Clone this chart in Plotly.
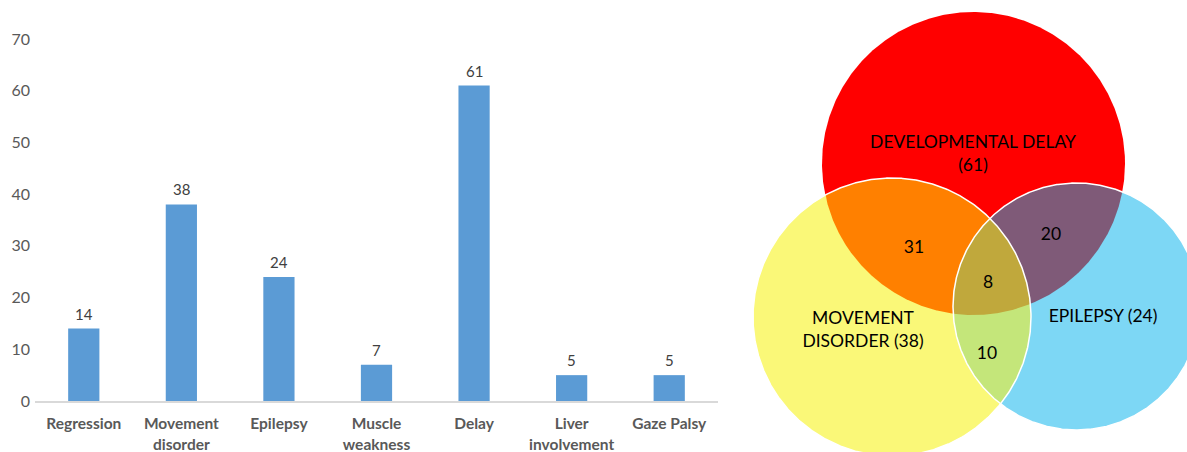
import numpy as np
import plotly.graph_objects as go

# ---------------- data ----------------
categories = ["Regression", "Movement<br>disorder", "Epilepsy", "Muscle<br>weakness",
              "Delay", "Liver<br>involvement", "Gaze Palsy"]
counts = [14, 38, 24, 7, 61, 5, 5]
y_ticks = [0, 10, 20, 30, 40, 50, 60, 70]

venn_sets = ["DEVELOPMENTAL DELAY", "MOVEMENT<br>DISORDER", "EPILEPSY"]
venn_set_sizes = [61, 38, 24]
venn_delay_movement = 31
venn_delay_epilepsy = 20
venn_movement_epilepsy = 10
venn_all_three = 8

# ---------------- geometry / style ----------------
W, H = 1187, 452
BAR_COLOR = "#5B9BD5"
# circles in pixel coordinates (cx, cy, r)
C_RED = (973.5, 163.5, 151.5)
C_YEL = (892.0, 317.0, 139.0)
C_BLU = (1076.5, 306.5, 123.5)
circles = [C_RED, C_YEL, C_BLU]


def circle_pts(c, n=720):
    t = np.linspace(0, 2 * np.pi, n)
    return c[0] + c[2] * np.cos(t), c[1] + c[2] * np.sin(t)


def inside(x, y, c, tol=1e-6):
    return (x - c[0]) ** 2 + (y - c[1]) ** 2 <= c[2] ** 2 * (1 + tol) + 1e-6


def intersection_poly(cs, n=2000):
    xs, ys = [], []
    for c in cs:
        x, y = circle_pts(c, n)
        m = np.ones_like(x, dtype=bool)
        for o in cs:
            if o is not c:
                m &= inside(x, y, o)
        xs.append(x[m]); ys.append(y[m])
    x = np.concatenate(xs); y = np.concatenate(ys)
    cx, cy = x.mean(), y.mean()
    order = np.argsort(np.arctan2(y - cy, x - cx))
    x = x[order]; y = y[order]
    return np.append(x, x[0]), np.append(y, y[0])


fig = go.Figure()

# ---------------- bar chart ----------------
fig.add_trace(go.Bar(
    x=categories, y=counts, marker=dict(color=BAR_COLOR, line=dict(width=0)),
    xaxis="x", yaxis="y", showlegend=False, hoverinfo="x+y",
))
for cat, v in zip(categories, counts):
    fig.add_annotation(x=cat, y=v, xref="x", yref="y", text=str(v), showarrow=False,
                       yanchor="bottom", yshift=4,
                       font=dict(family="Lato", size=15, color="#404040"))

# ---------------- venn diagram ----------------
def add_fill(x, y, color):
    fig.add_trace(go.Scatter(x=x, y=y, mode="lines", fill="toself", fillcolor=color,
                             line=dict(width=0, color=color), xaxis="x2", yaxis="y2",
                             showlegend=False, hoverinfo="skip"))


for c, col in zip(circles, ["#FF0000", "#FAF878", "#7DD7F5"]):
    x, y = circle_pts(c)
    add_fill(x, y, col)

x, y = intersection_poly([C_RED, C_YEL]); add_fill(x, y, "#FF8000")
x, y = intersection_poly([C_RED, C_BLU]); add_fill(x, y, "#7F5A78")
x, y = intersection_poly([C_YEL, C_BLU]); add_fill(x, y, "#C4E67A")
x, y = intersection_poly([C_RED, C_YEL, C_BLU]); add_fill(x, y, "#C0A83C")

for c in [C_YEL, C_BLU]:
    x, y = circle_pts(c)
    fig.add_trace(go.Scatter(x=x, y=y, mode="lines", line=dict(width=1.5, color="white"),
                             xaxis="x2", yaxis="y2", showlegend=False, hoverinfo="skip"))

venn_text = [
    f"{venn_sets[0]}<br>({venn_set_sizes[0]})",
    f"{venn_sets[1]} ({venn_set_sizes[1]})",
    f"{venn_sets[2]} ({venn_set_sizes[2]})",
    str(venn_delay_movement), str(venn_delay_epilepsy),
    str(venn_all_three), str(venn_movement_epilepsy),
]
venn_tx = [973, 863, 1103, 914, 1051, 988, 987]
venn_ty = [155, 331, 318, 249, 236, 284, 355]
fig.add_trace(go.Scatter(
    x=venn_tx, y=venn_ty, mode="text", text=venn_text,
    textfont=dict(family="Lato", size=17.5, color="black"),
    xaxis="x2", yaxis="y2", showlegend=False, hoverinfo="skip",
))

fig.update_layout(
    width=W, height=H,
    margin=dict(l=0, r=0, t=0, b=0, autoexpand=False),
    paper_bgcolor="white", plot_bgcolor="rgba(0,0,0,0)",
    bargap=0.68,
    xaxis=dict(domain=[35 / W, 718 / W], anchor="y", showline=True, linecolor="#D9D9D9",
               linewidth=1.5, showgrid=False, zeroline=False, ticks="", automargin=False,
               ticklabelstandoff=8,
               tickfont=dict(family="Lato", size=15.5, color="#595959", weight="bold")),
    yaxis=dict(domain=[(H - 401) / H, (H - 39) / H], anchor="x", range=[0, 70],
               tickvals=y_ticks, showgrid=False, zeroline=False, showline=False,
               ticks="", ticklabelstandoff=4, automargin=False,
               tickfont=dict(family="Lato", size=16, color="#595959")),
    xaxis2=dict(domain=[740 / W, 1], anchor="y2", range=[740, W], visible=False,
                fixedrange=True, automargin=False),
    yaxis2=dict(domain=[0, 1], anchor="x2", range=[H, 0], visible=False,
                fixedrange=True, automargin=False),
)

fig.write_html("out.html")
